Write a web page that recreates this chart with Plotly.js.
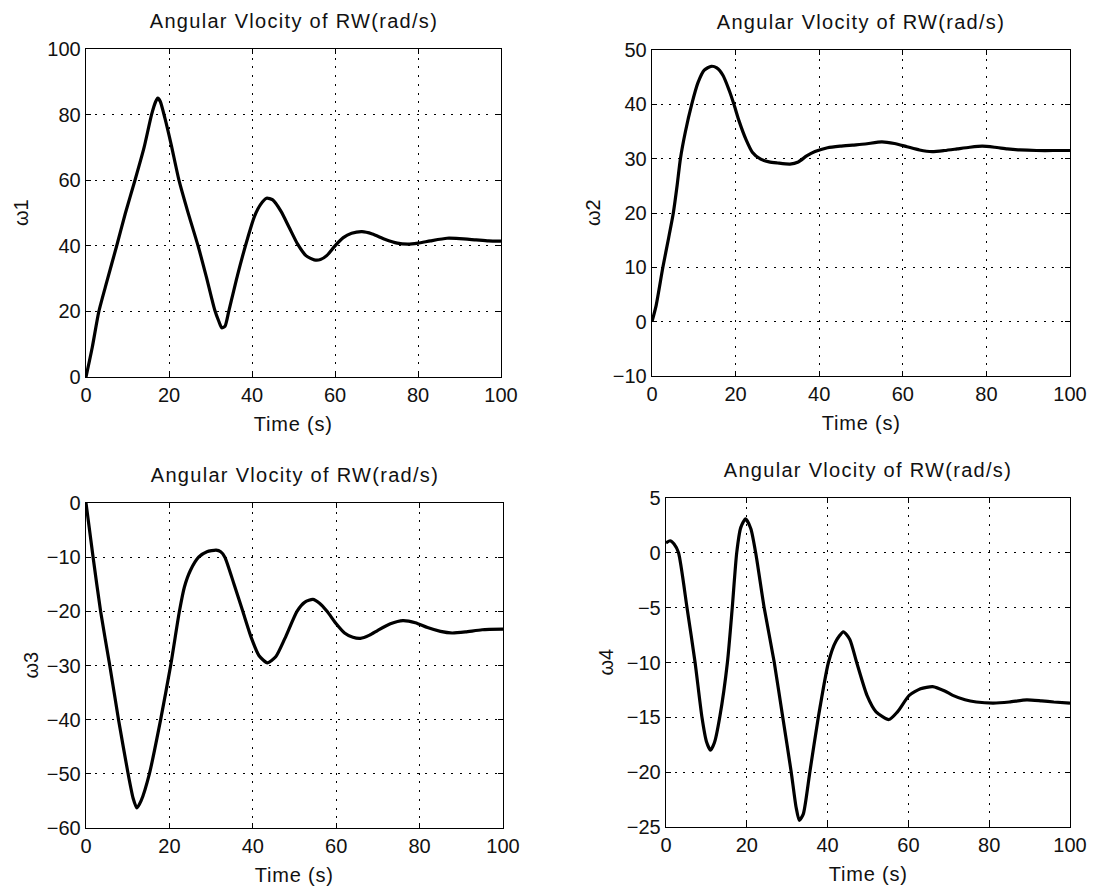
<!DOCTYPE html>
<html>
<head>
<meta charset="utf-8">
<script src="https://cdn.plot.ly/plotly-3.0.1.min.js"></script>
<style>
html,body{margin:0;padding:0;background:#fff;}
#chart{width:1101px;height:892px;}
</style>
</head>
<body>
<div id="chart"></div>
<script>
// ---- data ----
const titleText = "Angular Vlocity of RW(rad/s)";
const xLabel = "Time (s)";
const yLabels = ["ω1", "ω2", "ω3", "ω4"];
const xTicks = [0, 20, 40, 60, 80, 100];

const t1 = [0, 1.5, 3.1, 5, 7.4, 9.5, 11.8, 14, 15.8, 16.8, 17.3, 17.9, 19, 20.5, 22.4, 24.5, 27, 29, 31, 32, 32.7, 33.5, 34.4, 36.5, 39.1, 40.6, 42, 43.5, 45, 47, 49, 51, 53, 55, 56.5, 58, 60, 62, 64, 66.5, 69, 72, 75, 77.5, 80, 83, 87, 90, 94, 97, 100];
const w1 = [0, 9, 20, 29, 40, 50, 60, 70, 80, 84, 85, 84, 79, 71, 60, 50.5, 40, 30.5, 20.5, 17, 15, 15.5, 20, 31, 43, 49, 52.5, 54.5, 54, 50.5, 45.5, 40.5, 37, 35.7, 35.8, 37, 40, 42.5, 43.8, 44.3, 43.6, 42, 40.8, 40.5, 40.8, 41.5, 42.3, 42.2, 41.8, 41.5, 41.4];

const t2 = [0, 1, 2.6, 4, 5.1, 6, 6.8, 8, 9.5, 11, 12.5, 14.2, 15.5, 17, 18.5, 19.6, 20.8, 22.5, 24, 26, 28, 30, 33, 35, 37, 39, 42, 45, 48, 51, 55, 58, 61, 64, 67, 70, 73, 76, 79, 82, 85, 88, 92, 96, 100];
const w2 = [0, 3, 10, 15.5, 20, 25, 30, 35, 40, 44, 46.3, 47, 46.7, 45.3, 42.5, 40, 37, 33.5, 31.2, 29.9, 29.4, 29.2, 29, 29.4, 30.5, 31.3, 32, 32.3, 32.5, 32.7, 33.1, 32.8, 32.2, 31.6, 31.3, 31.5, 31.8, 32.1, 32.3, 32.1, 31.8, 31.6, 31.5, 31.5, 31.5];

const t3 = [0, 1.7, 3.5, 5.7, 7.8, 10.1, 11.3, 12.2, 13.2, 15.2, 17.9, 20.3, 22.4, 23.6, 25, 27, 29, 31.2, 32.3, 33.3, 35.5, 37.6, 39.7, 41.5, 43.5, 45.5, 47.7, 50.6, 52.5, 54.4, 56, 57.8, 60, 62, 64, 65.8, 68, 70, 73, 76, 79, 81.9, 85, 87.8, 91, 95, 100];
const w3 = [0, -10, -20, -30, -40, -50, -54.5, -56.3, -55, -50, -40, -30, -20, -15.5, -12.5, -10, -9, -8.7, -9, -10, -15, -20, -25, -28.2, -29.5, -28.4, -25, -20, -18.3, -17.8, -18.5, -20, -22.3, -24, -24.8, -25, -24.4, -23.5, -22.3, -21.7, -22.1, -23, -23.7, -24, -23.8, -23.4, -23.3];

const t4 = [0, 1, 2, 3.1, 5.2, 7.2, 8.9, 10, 11, 12, 13.3, 15.2, 16.4, 17.5, 18.5, 19.7, 21, 22.2, 24.3, 26.8, 28.9, 31, 32.2, 33, 34, 35.6, 37.7, 40.2, 42, 43.9, 45.5, 47.2, 49.75, 52, 55.2, 57.3, 60.2, 63, 66, 69, 71, 74, 76.8, 81, 85, 89.3, 93, 96, 100];
const w4 = [0.9, 1.1, 0.8, 0, -5, -10, -15, -17.2, -18, -17.3, -15, -10, -5, 0, 2.3, 3.1, 2.2, 0, -5, -10, -15, -20, -23.2, -24.4, -23.8, -20, -15, -10, -8.1, -7.2, -7.9, -10, -13, -14.5, -15.2, -14.5, -13, -12.4, -12.2, -12.6, -13, -13.4, -13.6, -13.7, -13.6, -13.4, -13.5, -13.6, -13.7];

const yRanges = [[0, 100], [-10, 50], [-60, 0], [-25, 5]];
const yDticks = [20, 10, 10, 5];

// ---- layout geometry (pixels) ----
const W = 1101, H = 892;
const px = x => x / W;
const py = y => 1 - y / H;
const boxes = [
  {x0: 86, x1: 501, y0: 49, y1: 377, ylx: 21},
  {x0: 652, x1: 1070, y0: 50, y1: 376, ylx: 593},
  {x0: 86, x1: 503, y0: 503, y1: 828, ylx: 30},
  {x0: 666, x1: 1070, y0: 498, y1: 827, ylx: 605}
];
const FONT = "Liberation Sans, Arial, sans-serif";
const FS = 20;

const ts = [t1, t2, t3, t4];
const ws = [w1, w2, w3, w4];

const traces = [];
const layout = {
  width: W, height: H,
  margin: {l: 0, r: 0, t: 0, b: 0},
  paper_bgcolor: "#fff", plot_bgcolor: "#fff",
  showlegend: false,
  font: {family: FONT, size: FS, color: "#111"},
  annotations: []
};

function axisCommon() {
  return {
    showline: true, linecolor: "#000", linewidth: 1.3, mirror: "allticks",
    ticks: "inside", ticklen: 5, tickcolor: "#000", tickwidth: 1,
    showgrid: true, gridcolor: "#000", gridwidth: 1, griddash: "2px,6.7px",
    zeroline: false, fixedrange: true,
    tickfont: {family: FONT, size: FS, color: "#111"}
  };
}

for (let i = 0; i < 4; i++) {
  const b = boxes[i];
  const n = i === 0 ? "" : String(i + 1);
  traces.push({
    x: ts[i], y: ws[i], type: "scatter", mode: "lines",
    line: {color: "#000", width: 3.2, shape: "spline", smoothing: 0.6},
    xaxis: "x" + n, yaxis: "y" + n, hoverinfo: "skip"
  });
  const xa = Object.assign(axisCommon(), {
    domain: [px(b.x0), px(b.x1)], anchor: "y" + n,
    range: [0, 100], tickvals: xTicks, ticktext: xTicks.map(String)
  });
  const ya = Object.assign(axisCommon(), {
    domain: [py(b.y1), py(b.y0)], anchor: "x" + n,
    range: yRanges[i], dtick: yDticks[i], tick0: 0
  });
  layout["xaxis" + n] = xa;
  layout["yaxis" + n] = ya;

  const cx = (b.x0 + b.x1) / 2;
  layout.annotations.push({
    text: titleText, xref: "paper", yref: "paper",
    x: px(cx), y: py(b.y0 - 28), xanchor: "center", yanchor: "middle",
    showarrow: false, font: {family: FONT, size: FS, color: "#111"}
  });
  layout.annotations.push({
    text: xLabel, xref: "paper", yref: "paper",
    x: px(cx), y: py(b.y1 + 47), xanchor: "center", yanchor: "middle",
    showarrow: false, font: {family: FONT, size: FS, color: "#111"}
  });
  layout.annotations.push({
    text: yLabels[i], xref: "paper", yref: "paper",
    x: px(b.ylx), y: py((b.y0 + b.y1) / 2), xanchor: "center", yanchor: "middle",
    textangle: -90, showarrow: false, font: {family: FONT, size: FS, color: "#111"}
  });
}

Plotly.newPlot("chart", traces, layout, {staticPlot: true, displayModeBar: false}).then(() => {
  document.querySelectorAll(".annotation-text").forEach(el => {
    if (el.textContent === titleText) el.style.letterSpacing = "1.3px";
    else if (el.textContent === xLabel) el.style.letterSpacing = "0.8px";
  });
});
</script>
</body>
</html>
